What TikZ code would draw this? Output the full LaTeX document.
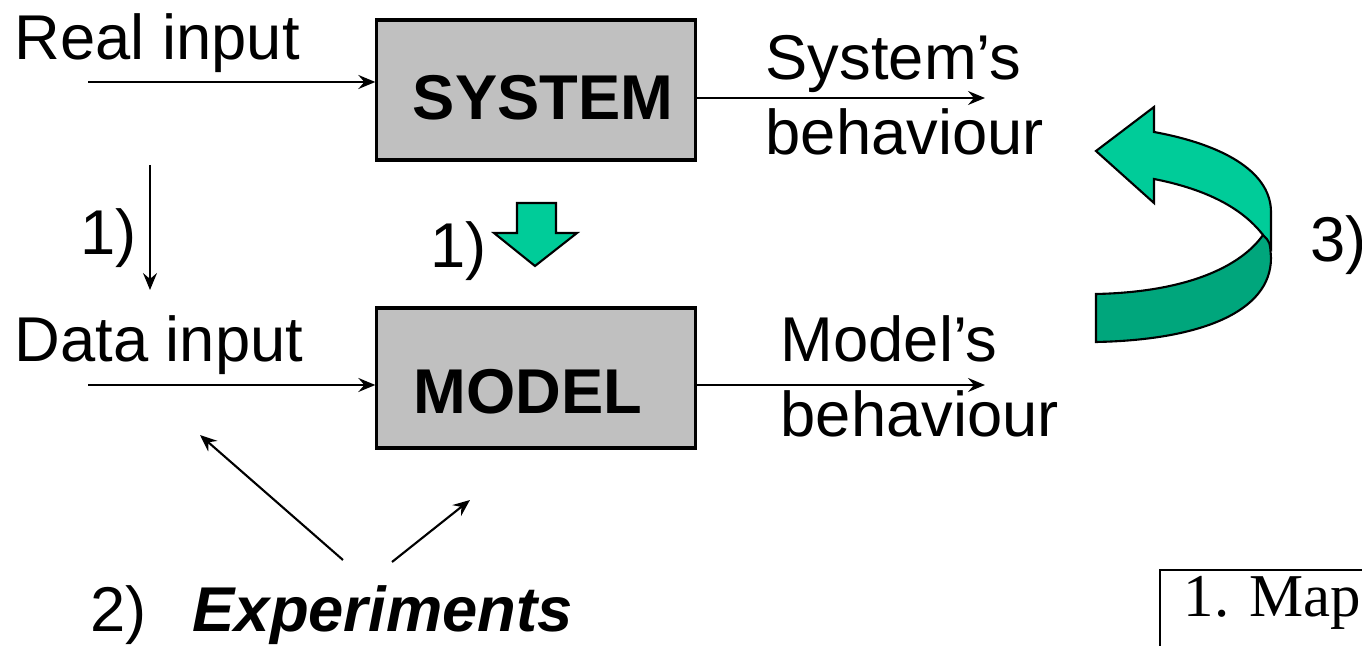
\documentclass[tikz,border=0pt]{standalone}
\usepackage{fontspec}
\setmainfont{Liberation Sans}
\newfontfamily\mapfont{Liberation Serif}
\usetikzlibrary{arrows.meta}
\definecolor{boxgray}{RGB}{192,192,192}
\definecolor{lightgreen}{RGB}{0,204,153}
\definecolor{darkgreen}{RGB}{0,166,124}
\tikzset{
	txt/.style={font=\fontsize{18}{22}\selectfont, inner sep=0pt, anchor=base west},
	boxtxt/.style={font=\fontsize{18}{22}\selectfont\bfseries, inner sep=0pt},
	block/.style={draw, line width=0.9pt, fill=boxgray, minimum width=3.18cm, minimum height=1.4cm, inner sep=0pt},
	arr/.style={line width=0.6pt, -{Stealth[length=1.7mm, width=1.4mm, inset=0.6mm]}},
	greenarrow/.style={draw, line width=0.6pt, fill=lightgreen}
}

\begin{document}
\begin{tikzpicture}[x=0.01cm, y=-0.01cm]
			%%%%% START %%%%%
			\useasboundingbox (0,0) rectangle (1362,646);
			
			% the two boxes
			\node[block] (sys) at (536,90) {};
			\node[boxtxt] (systxt) at (543,98) {SYSTEM};
			\node[block] (mod) at (536,378) {};
			\node[boxtxt] (modtxt) at (528,392) {MODEL};
			
			% texts
			\node[txt] (realin) at (14,60) {Real input};
			\node[txt] (sysb1) at (765,80) {System's};
			\node[txt] (sysb2) at (765,155) {behaviour};
			\node[txt] (step1a) at (80,255) {1)};
			\node[txt] (step1b) at (430,268) {1)};
			\node[txt] (datain) at (14,362) {Data input};
			\node[txt] (modb1) at (780,362) {Model's};
			\node[txt] (modb2) at (780,437) {behaviour};
			\node[txt] (step2) at (90,632) {2)};
			\node[txt, font=\fontsize{18}{22}\selectfont\bfseries\itshape] (exper) at (192,632) {Experiments};
			\node[txt] (step3) at (1310,262) {3)};
			
			% free ends
			\coordinate (ri) at (88,82);
			\coordinate (so) at (985,98);
			\coordinate (d1) at (150,165);
			\coordinate (d2) at (150,290);
			\coordinate (di) at (88,385);
			\coordinate (mo) at (985,385);
			\coordinate (e1) at (343,560);
			\coordinate (e1t) at (200,435);
			\coordinate (e2) at (392,562);
			\coordinate (e2t) at (470,500);
			
			\draw[arr] (ri) -- (ri -| sys.west);
			\draw[arr] (so -| sys.east) -- (so);
			\draw[arr] (d1) -- (d2);
			\draw[arr] (di) -- (di -| mod.west);
			\draw[arr] (mo -| mod.east) -- (mo);
			\draw[arr] (e1) -- (e1t);
			\draw[arr] (e2) -- (e2t);
			
			% block arrow down
			\draw[greenarrow] (517,203) -- (556,203) -- (556,233) -- (577,233) -- (535,266) -- (494,233) -- (517,233) -- cycle;
			
			% curved arrow, light part
			\draw[greenarrow] (1096,151) -- (1154,107) -- (1154,132)
				.. controls (1230,146) and (1271,175) .. (1271,212) -- (1271,248)
				-- (1263,235)
				.. controls (1240,205) and (1200,188) .. (1154,179)
				-- (1154,203) -- cycle;
			% curved arrow, dark part
			\draw[greenarrow, fill=darkgreen] (1263,235) .. controls (1270,242) .. (1271,258)
				.. controls (1271,312) and (1200,340) .. (1096,342)
				-- (1096,294)
				.. controls (1190,292) and (1242,265) .. cycle;
			
			% box cut at the corner
			\draw[line width=0.7pt] (1160,700) -- (1160,570) -- (1400,570);
			\node[txt, font=\fontsize{17.3}{21}\selectfont\mapfont] (map) at (1183,617) {1. Map};
			
			%%%%% END %%%%%
\end{tikzpicture}
\end{document}
